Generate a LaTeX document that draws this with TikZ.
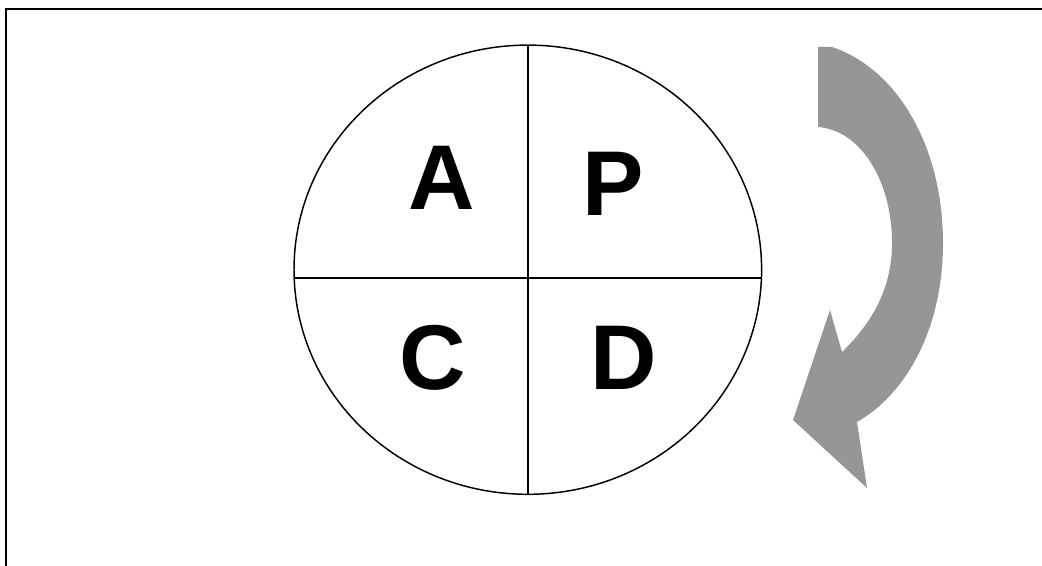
\documentclass[tikz,border=0pt]{standalone}
\usepackage{fontspec}
\newfontfamily\arialfont{Liberation Sans}
\definecolor{arrowgray}{RGB}{150, 150, 150}
\usepackage{tikz}
\usetikzlibrary{positioning}

\begin{document}
\begin{tikzpicture}[x=0.75pt, y=-0.75pt,
		letter/.style={font=\arialfont\bfseries\fontsize{69}{69}\selectfont, anchor=base, inner sep=0pt}]
	\useasboundingbox (0,0) rectangle (1042,566);
	% frame (only top and left edge visible)
	\draw[line width=1.5pt] (6,566) -- (6,9) -- (1042,9);
	% the cycle
	\draw[line width=1.1pt] (527.8,269.7) ellipse [x radius=233.8, y radius=224.6];
	\draw[line width=1.1pt] (527.8,45) -- (527.8,494.3);
	\draw[line width=1.1pt] (294,278) -- (761.6,278);
	\foreach \lab/\x/\y in {A/442/210, P/613/216, C/433/389, D/624/390}{
		\node[letter] (\lab) at (\x,\y) {\lab};
	}
	% turning arrow
	\fill[arrowgray] (818,47) -- (832,47)
		.. controls (900,70) and (943,150) .. (943,243)
		.. controls (943,330) and (905,395) .. (857,422)
		-- (867,488) -- (793,420) -- (830,310) -- (842,352)
		.. controls (875,320) and (892,285) .. (892,243)
		.. controls (892,180) and (860,130) .. (818,127) -- cycle;
\end{tikzpicture}
\end{document}
